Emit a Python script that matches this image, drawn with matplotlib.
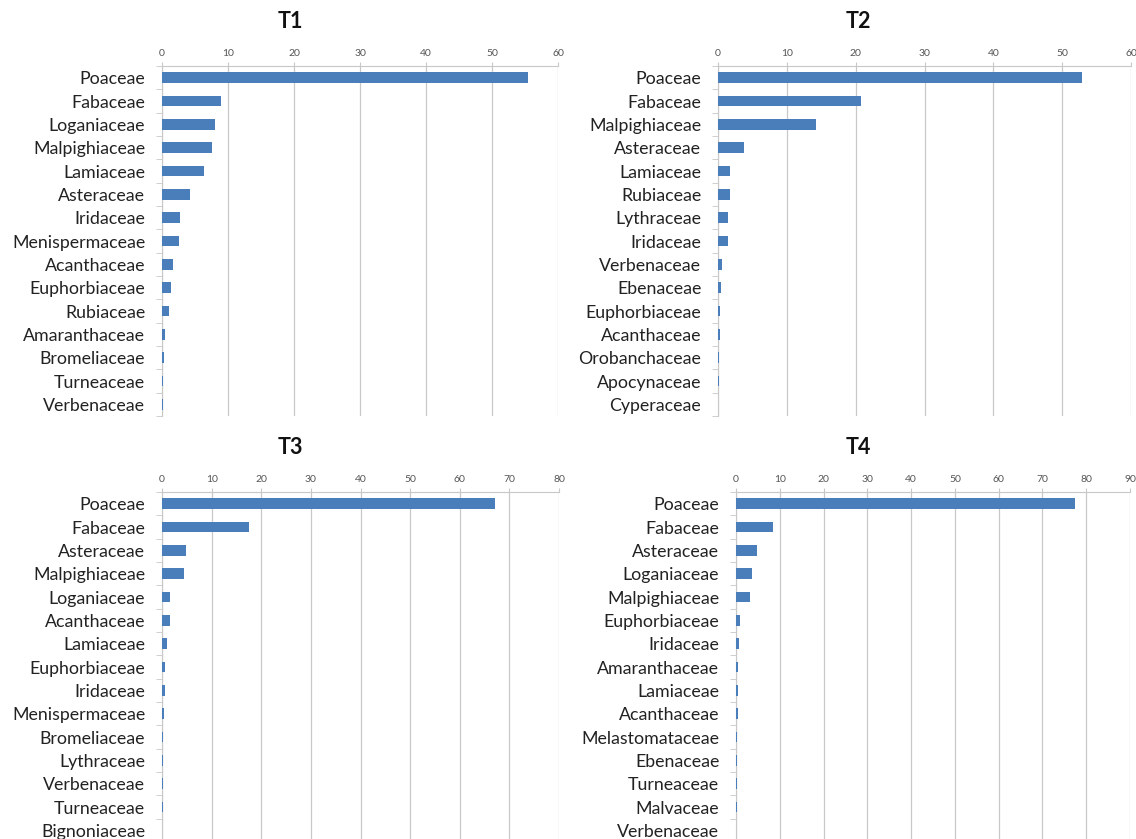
import numpy as np
import matplotlib
matplotlib.use("Agg")
import matplotlib.pyplot as plt

plt.rcParams['font.family'] = ['Lato', 'DejaVu Sans']

t1_names = ["Poaceae", "Fabaceae", "Loganiaceae", "Malpighiaceae", "Lamiaceae",
            "Asteraceae", "Iridaceae", "Menispermaceae", "Acanthaceae", "Euphorbiaceae",
            "Rubiaceae", "Amaranthaceae", "Bromeliaceae", "Turneaceae", "Verbenaceae"]
t1_vals = [55.4, 8.9, 8.1, 7.6, 6.3, 4.3, 2.7, 2.5, 1.6, 1.3, 1.0, 0.4, 0.25, 0.15, 0.1]

t2_names = ["Poaceae", "Fabaceae", "Malpighiaceae", "Asteraceae", "Lamiaceae",
            "Rubiaceae", "Lythraceae", "Iridaceae", "Verbenaceae", "Ebenaceae",
            "Euphorbiaceae", "Acanthaceae", "Orobanchaceae", "Apocynaceae", "Cyperaceae"]
t2_vals = [52.9, 20.8, 14.2, 3.8, 1.8, 1.7, 1.5, 1.5, 0.6, 0.5, 0.3, 0.3, 0.2, 0.2, 0.05]

t3_names = ["Poaceae", "Fabaceae", "Asteraceae", "Malpighiaceae", "Loganiaceae",
            "Acanthaceae", "Lamiaceae", "Euphorbiaceae", "Iridaceae", "Menispermaceae",
            "Bromeliaceae", "Lythraceae", "Verbenaceae", "Turneaceae", "Bignoniaceae"]
t3_vals = [67.2, 17.5, 4.8, 4.5, 1.6, 1.6, 1.0, 0.7, 0.7, 0.35, 0.3, 0.2, 0.15, 0.15, 0.1]

t4_names = ["Poaceae", "Fabaceae", "Asteraceae", "Loganiaceae", "Malpighiaceae",
            "Euphorbiaceae", "Iridaceae", "Amaranthaceae", "Lamiaceae", "Acanthaceae",
            "Melastomataceae", "Ebenaceae", "Turneaceae", "Malvaceae", "Verbenaceae"]
t4_vals = [77.5, 8.5, 4.7, 3.6, 3.1, 0.9, 0.75, 0.5, 0.35, 0.35, 0.2, 0.2, 0.2, 0.2, 0.1]

W, H = 1136, 839
fig = plt.figure(figsize=(W / 100, H / 100), dpi=100)

# (title, names, values, xmax, left, right, top, bottom, title_x, title_y) in pixels
panels = [
    ("T1", t1_names, t1_vals, 60, 162, 558, 66, 416, 290, 22),
    ("T2", t2_names, t2_vals, 60, 718, 1131, 66, 416, 858, 22),
    ("T3", t3_names, t3_vals, 80, 162, 559, 492, 842, 290, 448),
    ("T4", t4_names, t4_vals, 90, 736, 1130, 492, 842, 858, 448),
]

grid_col = "#c8c8c8"
for title, names, vals, xmax, l, r, t, b, tx, ty in panels:
    ax = fig.add_axes([l / W, 1 - b / H, (r - l) / W, (b - t) / H])
    n = len(names)
    y = np.arange(n)
    ax.barh(y, vals, height=0.47, color="#4a7ebb", zorder=3)
    ax.set_ylim(n - 0.5, -0.5)
    ax.set_xlim(0, xmax)
    ax.set_xticks(np.arange(0, xmax + 1, 10))
    ax.xaxis.tick_top()
    ax.tick_params(axis="x", labelsize=7.5, colors="#555555", length=3, color=grid_col, pad=3)
    ax.set_yticks(y)
    ax.set_yticklabels(names, fontsize=12.8, color="#222222")
    ax.set_yticks(np.arange(n + 1) - 0.5, minor=True)
    ax.tick_params(axis="y", which="major", length=0, pad=12)
    ax.tick_params(axis="y", which="minor", length=4, color=grid_col)
    ax.grid(axis="x", color=grid_col, linewidth=0.9, zorder=0)
    for s in ["right", "bottom"]:
        ax.spines[s].set_visible(False)
    for s in ["top", "left"]:
        ax.spines[s].set_color(grid_col)
    fig.text(tx / W, 1 - ty / H, title, ha="center", va="center",
             fontsize=15.5, fontweight="bold", color="#111111")

fig.savefig("out.png", dpi=100)
